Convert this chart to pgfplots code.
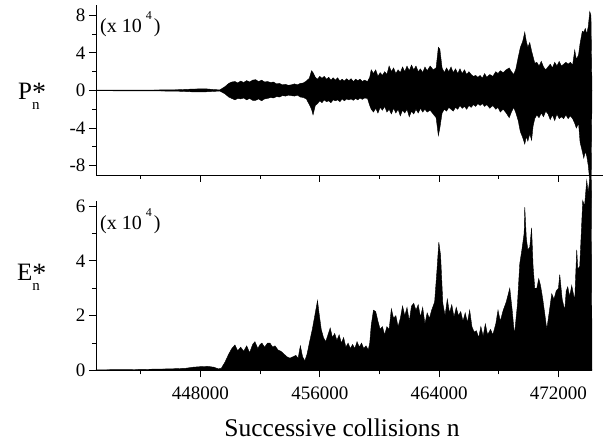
\documentclass[border=0pt]{standalone}
\usepackage{fontspec}
\setmainfont{Liberation Serif}
\usepackage{pgfplots}
\usepackage{pgfplotstable}
\pgfplotsset{compat=1.18}
\usepgfplotslibrary{fillbetween}

\pgfplotstableread{
x u l
441000 0.03 -0.03
443000 0.04 -0.04
445000 0.05 -0.05
446500 0.08 -0.08
447500 0.15 -0.15
448300 0.18 -0.15
448900 0.10 -0.10
449300 0.06 -0.06
449640 0.40 -0.35
449900 0.75 -0.70
450100 0.90 -0.85
450313 0.95 -1.00
450500 0.80 -0.85
450700 1.00 -0.90
450900 0.85 -0.80
451100 1.05 -1.00
451300 0.90 -0.85
451500 1.10 -1.05
451700 1.15 -1.05
451900 0.95 -0.90
452100 1.10 -1.10
452300 0.90 -0.90
452500 0.95 -0.85
452700 0.85 -0.75
452900 0.90 -0.80
453100 0.70 -0.65
453300 0.75 -0.70
453500 0.60 -0.55
453700 0.65 -0.60
453900 0.55 -0.50
454100 0.60 -0.55
454300 0.70 -0.60
454500 0.60 -0.50
454700 0.75 -0.70
454900 0.80 -0.75
455100 1.00 -0.90
455300 1.30 -1.50
455450 2.10 -2.00
455550 1.90 -2.60
455700 1.40 -1.60
455850 1.20 -1.40
456000 1.50 -1.10
456150 1.30 -1.30
456300 1.50 -1.00
456450 1.20 -1.20
456600 1.40 -1.10
456750 1.10 -1.30
456900 1.35 -1.00
457050 1.10 -1.10
457200 1.35 -1.00
457350 1.00 -1.20
457500 1.20 -0.90
457650 1.00 -1.10
457800 1.25 -0.90
457950 1.05 -1.00
458100 1.25 -0.90
458250 0.95 -1.05
458400 1.20 -0.85
458550 1.05 -1.00
458700 1.20 -0.80
458850 0.95 -0.95
459000 1.10 -0.80
459200 0.95 -0.85
459350 1.40 -1.60
459450 2.20 -2.00
459600 1.80 -2.30
459750 2.20 -1.90
459900 1.50 -2.40
460050 1.90 -1.80
460200 1.60 -2.10
460350 2.00 -1.70
460500 1.70 -2.30
460650 2.60 -2.00
460800 2.00 -2.50
460950 2.40 -1.90
461100 1.80 -2.40
461250 2.20 -2.00
461400 1.90 -2.70
461550 2.50 -2.10
461700 2.00 -2.40
461850 2.60 -2.00
462000 2.10 -2.80
462150 2.70 -2.20
462300 2.20 -2.50
462450 2.60 -2.00
462600 2.00 -2.40
462750 2.30 -1.90
462900 1.90 -2.30
463050 2.50 -2.00
463200 2.10 -2.30
463400 2.60 -2.10
463600 2.20 -2.50
463800 2.40 -2.90
463950 4.60 -4.80
464050 4.40 -4.00
464200 2.40 -2.40
464350 1.90 -2.00
464500 2.40 -2.20
464650 2.00 -1.80
464800 2.50 -2.00
464950 1.90 -2.20
465100 2.30 -1.80
465250 1.80 -2.00
465400 2.30 -1.60
465550 1.80 -1.90
465700 2.20 -1.70
465850 1.70 -2.00
466000 2.00 -1.60
466150 1.70 -1.80
466300 1.50 -1.50
466450 1.60 -1.70
466600 1.40 -1.40
466750 1.60 -1.60
466900 1.30 -1.40
467050 1.80 -1.70
467200 1.40 -1.50
467400 1.70 -1.90
467600 1.50 -1.60
467800 2.00 -2.00
467950 1.80 -1.80
468100 2.10 -2.30
468300 1.90 -2.00
468500 2.20 -2.40
468700 2.40 -2.90
468850 2.00 -2.30
469000 1.70 -1.80
469150 2.30 -2.40
469300 3.50 -3.20
469450 4.60 -4.40
469600 5.20 -5.00
469743 6.20 -5.70
469850 5.20 -4.90
469950 4.60 -5.40
470078 5.10 -4.60
470200 4.20 -5.30
470300 3.60 -3.80
470413 2.90 -3.00
470550 3.00 -2.60
470700 2.60 -2.90
470850 3.10 -2.40
471000 2.50 -2.80
471150 2.20 -2.20
471300 2.50 -2.50
471450 2.80 -3.10
471600 2.40 -2.60
471750 3.00 -3.20
471900 2.60 -2.50
472050 3.10 -3.00
472200 2.60 -2.80
472350 2.80 -3.00
472500 3.00 -2.60
472650 2.80 -3.00
472800 3.00 -2.70
472950 2.70 -3.00
473093 4.30 -3.50
473200 3.30 -4.00
473350 3.80 -3.50
473450 5.00 -5.50
473600 6.30 -6.50
473700 6.20 -7.20
473800 6.60 -6.50
473900 6.00 -7.00
474000 6.80 -8.00
474100 8.40 -9.60
474180 8.00 -12.50
474250 0.00 0.00
}\Pdata

\pgfplotstableread{
x e
441000 0.02
442000 0.03
443000 0.03
444000 0.04
445000 0.05
446000 0.06
447000 0.08
447500 0.12
448000 0.14
448500 0.15
448900 0.12
449200 0.06
449400 0.08
449640 0.30
449900 0.60
450100 0.80
450313 0.93
450500 0.72
450700 0.85
450900 0.70
451100 0.90
451300 0.65
451500 0.95
451653 1.05
451850 0.80
452000 0.95
452122 1.00
452300 0.85
452500 1.00
452658 1.00
452850 0.85
453000 0.90
453200 0.75
453400 0.70
453600 0.60
453800 0.50
454000 0.45
454200 0.50
454400 0.55
454550 0.45
454700 0.90
454850 0.50
455000 0.35
455150 0.60
455300 1.00
455500 1.50
455700 2.10
455850 2.55
455950 2.10
456100 1.50
456250 1.20
456400 1.05
456550 1.30
456700 1.55
456850 1.20
457000 1.35
457150 1.10
457300 1.30
457450 1.00
457600 1.20
457750 0.85
457900 1.00
458050 0.80
458200 0.95
458350 0.80
458500 1.05
458650 0.85
458800 1.00
458950 0.80
459100 0.90
459250 0.75
459350 1.00
459450 1.65
459600 2.20
459750 2.15
459900 1.80
460050 1.50
460200 1.60
460350 1.30
460500 1.60
460650 1.50
460800 2.25
460950 1.90
461100 2.00
461250 1.60
461400 1.90
461550 2.35
461700 2.00
461850 2.30
462000 1.80
462150 2.35
462300 2.45
462450 2.20
462600 2.40
462750 1.95
462900 2.30
463050 1.70
463200 2.10
463350 1.90
463500 2.20
463700 2.50
463850 3.60
463981 4.68
464100 4.20
464250 2.45
464400 2.00
464550 2.60
464700 2.10
464850 2.40
465000 1.95
465150 2.30
465300 2.00
465450 2.15
465600 1.80
465750 2.10
465900 1.75
466050 2.20
466200 1.60
466350 1.40
466500 1.45
466650 1.20
466800 1.60
466950 1.25
467100 1.70
467250 1.30
467450 1.50
467600 1.30
467800 1.70
467950 2.20
468100 1.80
468300 2.20
468500 2.50
468738 3.00
468900 2.20
469050 1.30
469250 2.40
469408 3.90
469550 4.40
469700 5.00
469743 5.96
469850 4.80
469950 4.40
470078 4.50
470200 5.20
470300 3.80
470413 3.00
470550 3.00
470680 3.35
470800 3.10
470950 2.60
471100 2.00
471217 1.50
471350 2.00
471552 2.80
471700 2.60
471850 2.90
472000 3.00
472088 3.50
472250 2.60
472423 2.20
472520 2.90
472624 3.05
472750 2.70
472892 3.10
473000 2.80
473093 2.55
473150 3.40
473227 4.40
473300 3.70
473428 3.80
473530 5.00
473629 6.20
473750 6.00
473897 6.93
473990 6.50
474098 6.95
474200 6.95
474250 0.00
}\Edata

\newcommand{\tenfour}{{\fontsize{20}{22}\selectfont (x 10\hspace{4pt}\raisebox{13pt}{\fontsize{12}{12}\selectfont 4}\hspace{2pt})}}
\newcommand{\starlabel}[1]{{\fontsize{25}{27}\selectfont #1\rlap{\raisebox{-1.5pt}{\fontsize{28}{28}\selectfont *}}\raisebox{-10pt}{\fontsize{15}{15}\selectfont n}}}

\pgfplotsset{common/.style={
  scale only axis, width=496pt, height=170pt,
  xmin=441000, xmax=474250,
  axis lines=left, axis line style={-, line width=0.9pt},
  tick align=outside, major tick length=7pt, minor tick length=4pt,
  every tick/.style={line width=0.8pt, black},
  xtick={448000,456000,464000,472000},
  minor xtick={444000,452000,460000,468000},
  scaled x ticks=false, scaled y ticks=false,
  tick label style={font=\fontsize{19}{21}\selectfont},
  xticklabel style={yshift=-6pt},
  clip=false,
}}

\begin{document}
\begin{tikzpicture}
\begin{axis}[common, at={(96pt,272pt)}, anchor=south west,
  ymin=-9, ymax=9.1, ytick={-8,-4,0,4,8}, minor ytick={-6,-2,2,6},
  yticklabels={-8,-4,0,4,8},
  xticklabels={}]
\draw[line width=0.9pt] (rel axis cs:1,0) -- ([xshift=12pt]rel axis cs:1,0);
\addplot[name path=U, draw=black, line width=0.4pt] table[x=x,y=u]{\Pdata};
\addplot[name path=L, draw=black, line width=0.4pt] table[x=x,y=l]{\Pdata};
\addplot[black] fill between[of=U and L];
\node[anchor=base west, inner sep=0pt] at ([xshift=4pt,yshift=-27.5pt]rel axis cs:0,1) {\tenfour};
\node[anchor=base west, inner sep=0pt] at ([xshift=-78pt,yshift=-10pt]axis description cs:0,0.5) {\starlabel{P}};
\end{axis}
\begin{axis}[common, at={(96pt,76.5pt)}, anchor=south west,
  ymin=0, ymax=6.2, ytick={0,2,4,6}, minor ytick={1,3,5},
  yticklabels={0,2,4,6},
  xticklabels={448000,456000,464000,472000}]
\addplot[fill=black, draw=black, line width=0.4pt] table[x=x,y=e]{\Edata} \closedcycle;
\node[anchor=base west, inner sep=0pt] at ([xshift=4pt,yshift=-28.5pt]rel axis cs:0,1) {\tenfour};
\node[anchor=base west, inner sep=0pt] at ([xshift=-79pt,yshift=5pt]axis description cs:0,0.5) {\starlabel{E}};
\node[anchor=base, inner sep=0pt, font=\fontsize{25.5}{27}\selectfont] at ([xshift=-2pt,yshift=-66.5pt]axis description cs:0.5,0) {Successive collisions n};
\end{axis}
\pgfresetboundingbox
\useasboundingbox (0,0) rectangle (603pt,447pt);
\end{tikzpicture}
\end{document}
